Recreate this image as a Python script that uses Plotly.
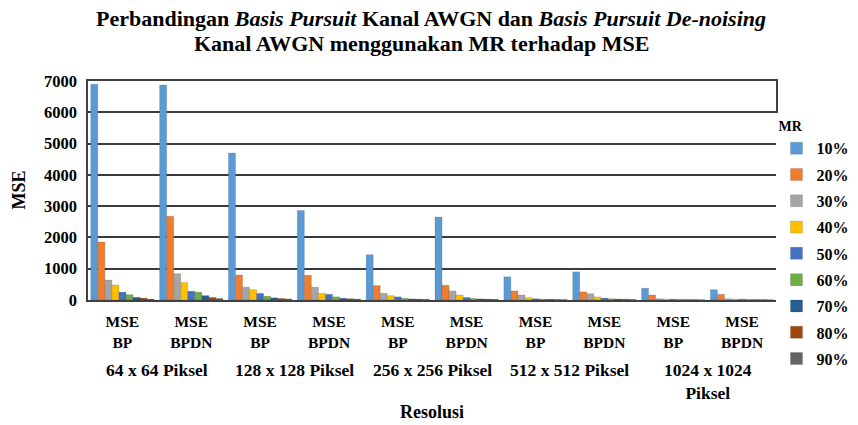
import plotly.graph_objects as go

# kategori sumbu x
kategori = ["64 BP", "64 BPDN", "128 BP", "128 BPDN", "256 BP", "256 BPDN",
            "512 BP", "512 BPDN", "1024 BP", "1024 BPDN"]
label_tick = ["MSE<br>BP", "MSE<br>BPDN"] * 5
resolusi = ["64 x 64 Piksel", "128 x 128 Piksel", "256 x 256 Piksel",
            "512 x 512 Piksel", "1024 x 1024<br>Piksel"]
tick_y = [0, 1000, 2000, 3000, 4000, 5000, 6000, 7000]

# nilai MSE per MR
mse_10 = [6900, 6870, 4700, 2860, 1450, 2650, 740, 900, 375, 330]
mse_20 = [1850, 2680, 800, 790, 460, 470, 290, 260, 160, 180]
mse_30 = [640, 840, 410, 410, 215, 290, 160, 200, 40, 40]
mse_40 = [480, 560, 330, 215, 140, 160, 75, 100, 30, 30]
mse_50 = [250, 280, 210, 180, 100, 80, 40, 60, 25, 25]
mse_60 = [170, 250, 120, 100, 55, 50, 30, 40, 20, 20]
mse_70 = [85, 140, 70, 55, 35, 35, 25, 30, 15, 15]
mse_80 = [60, 80, 50, 40, 30, 30, 20, 25, 15, 15]
mse_90 = [30, 50, 35, 30, 25, 25, 15, 20, 10, 10]

mr_label = ["10%", "20%", "30%", "40%", "50%", "60%", "70%", "80%", "90%"]
warna = ["#5B9BD5", "#ED7D31", "#A5A5A5", "#FFC000", "#4472C4",
         "#70AD47", "#255E91", "#9E480E", "#636363"]
seri = [mse_10, mse_20, mse_30, mse_40, mse_50, mse_60, mse_70, mse_80, mse_90]

FONT = "Liberation Serif, Times New Roman, serif"

fig = go.Figure()
for nama, nilai, w in zip(mr_label, seri, warna):
    fig.add_trace(go.Bar(
        x=kategori, y=nilai, name="<b>%s</b>" % nama, legendgroup=nama,
        marker=dict(color=w, line=dict(color="rgba(0,0,0,0.25)", width=0.5)),
    ))

# judul dua baris
fig.add_annotation(
    x=0.5, y=1, xref="paper", yref="paper", yshift=63, yanchor="middle",
    xanchor="center", xshift=-1, showarrow=False,
    text="<b>Perbandingan <i>Basis Pursuit</i> Kanal AWGN dan <i>Basis Pursuit De-noising</i></b>",
    font=dict(family=FONT, size=22, color="black"),
)
fig.add_annotation(
    x=0.5, y=1, xref="paper", yref="paper", yshift=38, yanchor="middle",
    xanchor="center", xshift=-11, showarrow=False,
    text="<b>Kanal AWGN menggunakan MR terhadap MSE</b>",
    font=dict(family=FONT, size=22, color="black"),
)

# label resolusi di bawah pasangan BP/BPDN
for i, r in enumerate(resolusi):
    fig.add_annotation(
        x=2 * i + 0.5, y=0, xref="x", yref="paper", yshift=-58,
        text="<b>%s</b>" % r, showarrow=False, yanchor="top",
        font=dict(family=FONT, size=17.5, color="black"),
    )

fig.add_annotation(
    x=0.5, y=0, xref="paper", yref="paper", yshift=-100,
    text="<b>Resolusi</b>", showarrow=False, yanchor="top",
    font=dict(family=FONT, size=18, color="black"),
)

# judul sumbu y
fig.add_annotation(
    x=0, y=0.5, xref="paper", yref="paper", xshift=-70, textangle=-90,
    text="<b>MSE</b>", showarrow=False, xanchor="center",
    font=dict(family=FONT, size=18, color="black"),
)

fig.update_layout(
    width=858, height=425,
    margin=dict(l=88, r=80, t=81, b=125),
    paper_bgcolor="white", plot_bgcolor="white",
    barmode="group", bargap=0.08, bargroupgap=0,
    font=dict(family=FONT, color="black"),
    legend=dict(
        title=dict(text="<b>MR</b>", font=dict(family=FONT, size=14)),
        font=dict(family=FONT, size=16),
        xref="container", yref="container",
        x=0.905, xanchor="left", y=0.734, yanchor="top",
        tracegroupgap=2.5, itemwidth=30, maxheight=400,
    ),
    showlegend=True,
)

fig.update_xaxes(
    tickmode="array", tickvals=kategori, ticktext=["<b>%s</b>" % t for t in label_tick],
    tickfont=dict(family=FONT, size=15.5, color="black"),
    showline=True, linecolor="#404040", linewidth=1.5, mirror=True,
    showgrid=False, automargin=False, ticklabelstandoff=7,
)
fig.update_yaxes(
    range=[0, 7000], tickmode="array", tickvals=tick_y,
    ticktext=["<b>%d</b>" % v for v in tick_y],
    tickfont=dict(family=FONT, size=16.5, color="black"),
    showgrid=True, gridcolor="#3a3a3a", gridwidth=1.5,
    showline=True, linecolor="#404040", linewidth=1.5, mirror=True,
    zeroline=False, automargin=False, ticklabelstandoff=6,
)

fig.write_html("out.html", config={"displayModeBar": False},
               post_script="document.body.style.margin='0';")
